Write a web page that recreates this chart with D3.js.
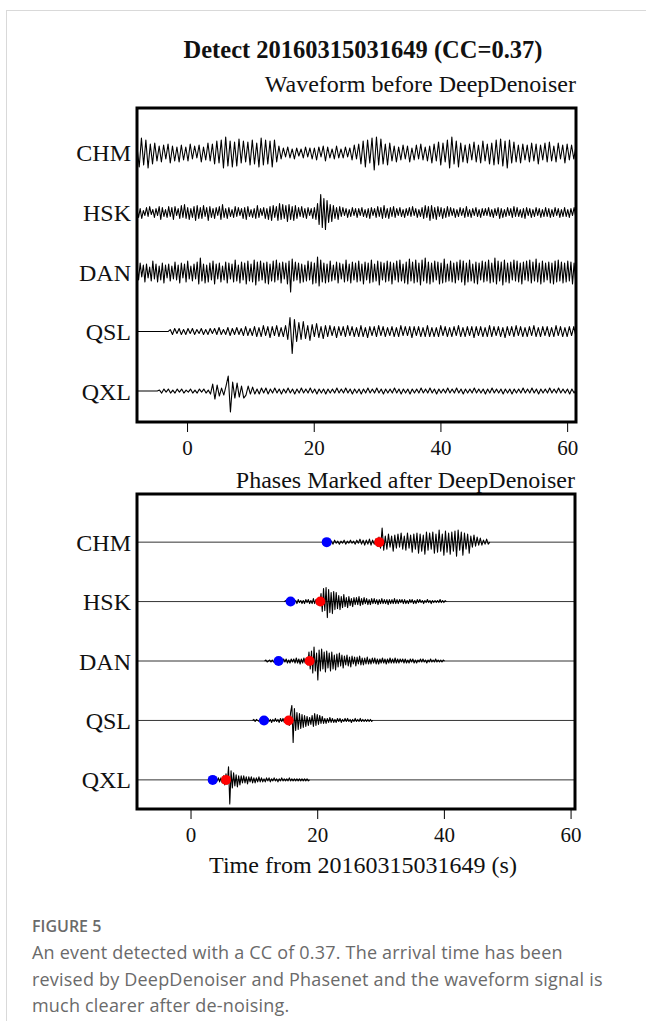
<!DOCTYPE html>
<html lang="en">
<head>
<meta charset="UTF-8">
<title>Detect 20160315031649</title>
<script src="https://d3js.org/d3.v7.min.js"></script>
<style>
  body { margin: 0; background: #fff; }
  svg { display: block; }
  .serif { font-family: "Liberation Serif", "Times New Roman", serif; fill: #111; }
  .caption { font-family: "Open Sans", "Noto Sans", sans-serif; fill: #6a6a6a; }
</style>
</head>
<body>
<svg id="fig" width="646" height="1021"></svg>
<script>
// station names, top to bottom
const stations = ["CHM", "HSK", "DAN", "QSL", "QXL"];
const xTicks = [0, 20, 40, 60];

// raw traces (before denoising): start time (s), sample step (s), amplitudes
const rawStart = [-7.9, -7.9, -7.9, -3.0, -4.7];
const rawStep = [0.35, 0.25, 0.25, 0.35, 0.35];

const rawCHM = [
  6,-14,15,-12,13,-15,9,-11,10,-8,7,-9,8,-6,9,-10,7,-8,6,-9,
  8,-7,6,-8,9,-6,7,-5,8,-9,6,-7,10,-8,9,-11,12,-10,13,-15,
  16,-13,12,-14,11,-13,14,-10,12,-9,11,-12,13,-11,10,-14,15,-12,13,-11,
  12,-14,13,-9,7,-6,5,-4,6,-5,4,-6,5,-3,4,-5,6,-4,5,-6,
  5,-7,6,-4,7,-8,6,-5,4,-6,7,-5,4,-5,6,-4,5,-7,8,-6,
  9,-11,12,-14,13,-10,15,-17,16,-12,14,-11,9,-12,10,-8,7,-9,6,-7,
  8,-6,7,-9,5,-7,8,-6,9,-7,6,-8,7,-10,9,-8,11,-12,10,-9,
  13,-15,16,-11,12,-14,10,-9,8,-10,9,-7,11,-9,8,-10,12,-8,9,-11,
  10,-12,13,-11,14,-13,12,-15,13,-10,11,-9,8,-10,9,-7,8,-9,10,-8,
  9,-11,8,-7,10,-9,11,-8,7,-9,10,-6,8,-10,9,-7,8,-6,7,-5
];
const rawHSK = [
  3,-5,4,-6,2,-3,5,-4,6,-2,3,-5,4,-3,6,-7,5,-4,3,-5,
  6,-4,5,-7,6,-3,4,-6,7,-5,8,-6,5,-7,4,-5,6,-8,7,-6,
  5,-6,7,-4,5,-8,6,-5,4,-6,5,-3,6,-7,8,-5,4,-6,5,-4,
  3,-5,6,-4,5,-3,4,-6,5,-7,6,-4,3,-5,4,-6,7,-5,4,-3,
  5,-6,4,-7,6,-8,7,-5,6,-8,9,-7,8,-6,7,-9,8,-7,6,-8,
  7,-6,5,-4,6,-5,4,-6,5,-3,4,-6,5,-7,9,-12,18,-15,14,-17,
  12,-10,8,-9,7,-6,5,-7,6,-4,5,-3,4,-5,3,-4,5,-3,4,-5,
  4,-3,5,-4,3,-5,4,-6,5,-3,4,-5,6,-4,5,-6,7,-5,4,-6,
  5,-4,6,-5,4,-3,5,-4,3,-5,4,-3,5,-4,6,-3,4,-5,3,-4,
  5,-6,7,-5,6,-8,7,-6,5,-7,6,-4,5,-6,4,-5,6,-4,5,-3,
  4,-5,3,-4,5,-3,4,-5,6,-4,3,-5,4,-3,5,-4,3,-5,4,-3,
  4,-3,5,-4,3,-5,4,-3,5,-6,4,-5,3,-4,5,-3,4,-5,6,-4,
  5,-4,3,-5,4,-6,5,-3,4,-5,3,-4,5,-3,4,-5,3,-4,5,-4,
  4,-5,3,-4,5,-3,4,-5,3,-4,5,-4,3,-5,4,-3,5,-4,3,-4
];
const rawDAN = [
  6,-8,9,-5,7,-10,8,-6,5,-9,11,-7,8,-10,6,-8,9,-11,7,-6,
  8,-9,6,-7,10,-8,7,-11,9,-6,8,-10,11,-7,6,-9,8,-7,10,-12,
  14,-9,8,-11,7,-10,9,-8,11,-12,8,-7,9,-10,6,-8,10,-11,9,-7,
  8,-10,12,-9,7,-11,10,-8,9,-12,11,-9,8,-10,12,-13,10,-9,11,-8,
  9,-11,10,-12,8,-9,11,-10,12,-8,9,-11,10,-7,9,-12,11,-20,13,-9,
  10,-8,9,-11,8,-10,7,-9,11,-8,10,-12,9,-11,15,-14,12,-10,9,-11,
  8,-10,11,-9,7,-8,10,-11,9,-7,8,-10,12,-9,8,-11,10,-8,9,-10,
  11,-9,8,-12,10,-8,9,-11,12,-10,8,-9,11,-13,10,-8,9,-10,11,-9,
  10,-12,9,-8,11,-10,12,-9,8,-11,10,-12,13,-9,10,-11,12,-10,9,-13,
  12,-9,14,-11,10,-12,9,-10,11,-8,10,-12,9,-11,13,-10,8,-9,11,-10,
  9,-11,10,-8,12,-10,11,-13,9,-10,12,-9,8,-11,10,-12,9,-8,11,-10,
  10,-9,12,-11,9,-10,14,-12,11,-9,10,-13,12,-10,9,-11,10,-8,12,-9,
  11,-10,9,-12,10,-8,11,-9,12,-11,10,-9,13,-10,9,-12,11,-10,9,-8,
  10,-11,9,-12,11,-10,12,-9,10,-11,9,-10,11,-9,10,-12,9,-10,11,-9
];
const rawQSL = [
  0,2,-3,3,-2,3,-3,2,-3,3,-2,3,-3,2,-2,3,-3,2,-3,3,
  -2,3,-3,4,-3,2,-3,4,-4,3,-3,4,-3,3,-4,5,-4,3,-4,5,
  -5,4,-5,6,-4,5,-6,5,-4,6,-5,4,-5,6,-8,14,-22,12,-10,9,
  -8,10,-7,6,-9,7,-5,8,-6,5,-7,6,-5,6,-4,5,-6,5,-4,5,
  -5,6,-4,5,-5,4,-5,6,-5,4,-6,5,-4,5,-5,6,-4,5,-5,4,
  -4,5,-5,4,-5,6,-4,5,-4,5,-6,5,-4,5,-5,4,-5,6,-5,4,
  -5,4,-5,6,-4,5,-5,4,-5,5,-4,6,-5,4,-5,5,-4,5,-6,5,
  -4,5,-5,4,-5,6,-5,5,-4,5,-5,4,-6,5,-4,5,-5,6,-4,5,
  -5,4,-5,5,-4,6,-5,4,-5,5,-4,5,-5,4,-5,6,-4,5,-5,4,
  -5,5,-4,5,-5,4,-5,5,-4,5,-5,4,-5,5,-4,5,-5,4,-5,5
];
const rawQXL = [
  0,1,-2,2,-1,2,-2,1,-2,2,-1,2,-2,1,-1,2,-2,1,-2,2,
  -1,2,-2,1,-3,7,-8,6,-5,3,-4,5,15,-21,9,-7,8,-6,5,-7,
  -4,5,-3,4,-3,2,-3,3,-2,3,-3,2,-2,3,-2,2,-3,2,-2,3,
  -2,2,-3,2,-2,3,-2,2,-2,3,-2,2,-3,2,-2,2,-3,2,-2,2,
  -2,3,-2,2,-2,3,-2,2,-3,2,-2,2,-3,2,-2,3,-2,2,-2,3,
  -2,2,-3,2,-2,2,-2,3,-2,2,-3,2,-2,2,-3,2,-2,2,-2,3,
  -2,2,-2,3,-2,2,-3,2,-2,2,-2,3,-2,2,-2,3,-2,2,-3,2,
  -2,2,-2,3,-2,2,-2,2,-3,2,-2,3,-2,2,-2,2,-3,2,-2,2,
  -3,2,-2,2,-2,3,-2,2,-2,3,-2,2,-3,2,-2,2,-2,3,-2,2,
  -2,3,-2,2,-2,2,-3,2,-2,2,-3,2,-2,3,-2,2,-2,2,-3,2
];

// denoised traces: start time (s), sample step (s), amplitudes
const denStart = [21.0, 14.8, 11.7, 9.8, 3.0];
const denStep = [0.25, 0.2, 0.2, 0.2, 0.2];

const denCHM = [
  0,1,-1,2,-1,1,-2,2,-1,1,-2,1,-1,2,-2,1,-1,2,-1,1,
  -2,2,-1,3,-2,2,-3,2,-2,3,-3,2,-2,3,-4,5,-6,14,-8,6,
  -7,8,-5,6,-9,7,-6,8,-5,9,-7,6,-8,9,-6,7,-10,8,-7,9,
  -11,8,-9,7,-12,10,-8,9,-7,10,-11,8,-10,12,-9,8,-13,11,-10,9,
  -12,10,-9,11,-14,12,-8,10,-13,9,-7,8,-11,6,-5,7,-4,5,-3,4,
  -3,2,-2,3,-2,0
];
const denHSK = [
  0,1,-1,1,-2,1,-1,2,-1,1,-2,2,-1,1,-2,1,-2,2,-1,2,
  -2,1,-2,3,-2,2,-3,3,-4,8,-10,13,-9,14,-16,12,-11,9,-12,10,
  -8,9,-7,6,-8,5,-6,7,-5,4,-6,5,-4,3,-5,4,-3,4,-3,5,
  -4,3,-3,4,-2,3,-3,2,-3,3,-2,3,-2,2,-3,2,-2,3,-2,2,
  -2,2,-3,2,-2,2,-2,3,-2,2,-2,2,-1,2,-2,2,-2,1,-2,2,
  -1,2,-2,1,-2,2,-1,2,-1,1,-2,1,-1,2,-1,1,-2,1,-1,1,
  -1,1,-1,2,-1,1,-1,1,0
];
const denDAN = [
  0,1,-1,0,1,-1,1,-1,0,1,-1,1,-2,1,-1,2,-1,2,-2,1,
  -2,2,-1,2,-2,3,-2,2,-3,2,-2,3,-2,3,-4,9,-8,10,-12,14,
  -10,8,-19,11,-10,12,-8,9,-11,10,-7,8,-10,9,-8,6,-9,7,-6,8,
  -5,6,-7,5,-4,6,-5,4,-6,5,-3,4,-5,4,-3,5,-4,3,-4,3,
  -3,4,-3,2,-3,3,-2,3,-3,2,-3,2,-2,3,-2,2,-3,2,-2,3,
  -2,2,-2,3,-2,2,-2,2,-1,2,-2,2,-2,1,-2,2,-1,2,-2,1,
  -2,1,-1,2,-1,2,-1,1,-2,1,-1,2,-1,1,-1,2,-1,1,-1,1,
  -1,1,0
];
const denQSL = [
  0,1,-1,1,0,-1,1,-1,1,-1,1,-1,2,-1,1,-2,1,-1,2,-1,
  1,-2,2,-1,2,-2,2,-3,3,-5,8,15,-22,12,-10,8,-9,7,-8,6,
  -7,5,-6,4,-5,3,-4,5,-6,7,-5,6,-4,5,-3,4,-3,2,-3,2,
  -2,3,-2,2,-2,1,-2,2,-1,2,-2,1,-1,2,-1,2,-1,1,-2,1,
  -1,2,-1,1,-1,2,-1,1,-1,1,-1,1,-1,1,-1,0
];
const denQXL = [
  0,1,-1,1,-1,2,-1,2,-2,2,-3,4,-5,6,-4,13,-24,9,-8,7,
  -6,5,-7,4,-5,4,-3,4,-3,3,-4,3,-2,3,-3,2,-3,2,-2,3,
  -2,2,-2,1,-2,2,-1,2,-2,1,-1,2,-1,1,-2,1,-1,2,-1,1,
  -1,1,-1,2,-1,1,-1,1,-1,1,-1,1,-1,1,-1,1,-1,1,-1,0
];

// picked arrivals (s) after denoising
const pPicks = [21.5, 15.8, 13.9, 11.6, 3.5];
const sPicks = [29.8, 20.5, 18.8, 15.5, 5.6];

const rawTraces = [rawCHM, rawHSK, rawDAN, rawQSL, rawQXL];
const denTraces = [denCHM, denHSK, denDAN, denQSL, denQXL];

const svg = d3.select("#fig");

// page card edges
svg.append("line").attr("x1", 6).attr("x2", 646).attr("y1", 10.5).attr("y2", 10.5)
  .attr("stroke", "#d9d9d9");
svg.append("line").attr("x1", 6.5).attr("x2", 6.5).attr("y1", 10).attr("y2", 1021)
  .attr("stroke", "#d9d9d9");

svg.append("text").attr("class", "serif")
  .attr("x", 363).attr("y", 58)
  .attr("text-anchor", "middle")
  .style("font-size", "24.5px").style("font-weight", "bold")
  .text("Detect 20160315031649 (CC=0.37)");

const amp = d3.scaleLinear().domain([-30, 30]).range([30, -30]);

function drawPanel(opt) {
  const x = d3.scaleLinear().domain(opt.xDomain).range([opt.left, opt.right]);
  const row = d3.scaleLinear().domain(opt.rowDomain).range([opt.top, opt.bottom]);
  const g = svg.append("g");

  g.append("text").attr("class", "serif")
    .attr("x", opt.right).attr("y", opt.titleY)
    .attr("text-anchor", "end")
    .style("font-size", "24px")
    .text(opt.title);

  const clipId = "clip" + opt.id;
  svg.append("clipPath").attr("id", clipId)
    .append("rect")
    .attr("x", opt.left).attr("y", opt.top)
    .attr("width", opt.right - opt.left).attr("height", opt.bottom - opt.top);

  const plot = g.append("g").attr("clip-path", `url(#${clipId})`);

  const line = d3.line().x(d => x(d[0])).y(d => d[1]);

  opt.traces.forEach((vals, i) => {
    const y0 = row(i);
    const pts = vals.map((v, k) => [opt.starts[i] + k * opt.steps[i], y0 + amp(v)]);
    if (opt.fullBaseline) {
      plot.append("line")
        .attr("x1", opt.left).attr("x2", opt.right)
        .attr("y1", y0).attr("y2", y0)
        .attr("stroke", "#333").attr("stroke-width", 1);
    } else if (opt.starts[i] > opt.xDomain[0]) {
      pts.unshift([opt.xDomain[0], y0]);
    }
    plot.append("path")
      .attr("d", line(pts))
      .attr("fill", "none")
      .attr("stroke", "#000")
      .attr("stroke-width", 1.1)
      .attr("stroke-linejoin", "round");
  });

  if (opt.picks) {
    [[opt.picks.p, "#0000ff"], [opt.picks.s, "#ff0000"]].forEach(([times, color]) => {
      plot.selectAll(null).data(times).enter().append("circle")
        .attr("cx", d => x(d))
        .attr("cy", (d, i) => row(i))
        .attr("r", 5)
        .attr("fill", color);
    });
  }

  g.selectAll(".station").data(stations).enter().append("text")
    .attr("class", "serif")
    .attr("x", opt.left - 6)
    .attr("y", (d, i) => row(i) + 8.5)
    .attr("text-anchor", "end")
    .style("font-size", "24px")
    .text(d => d);

  g.append("rect")
    .attr("x", opt.left).attr("y", opt.top)
    .attr("width", opt.right - opt.left).attr("height", opt.bottom - opt.top)
    .attr("fill", "none").attr("stroke", "#000").attr("stroke-width", 3);

  const axis = g.append("g")
    .attr("transform", `translate(0,${opt.bottom})`)
    .call(d3.axisBottom(x).tickValues(xTicks).tickSize(10).tickSizeOuter(0).tickPadding(8));
  axis.select(".domain").remove();
  axis.selectAll(".tick line").attr("stroke", "#000");
  axis.selectAll(".tick text")
    .attr("fill", "#111")
    .style("font-family", "'Liberation Serif', 'Times New Roman', serif")
    .style("font-size", "21px");
  return x;
}

drawPanel({
  id: "raw", title: "Waveform before DeepDenoiser", titleY: 92,
  left: 137, right: 576, top: 108, bottom: 422,
  xDomain: [-7.9, 61.4], rowDomain: [-0.756, 4.52],
  traces: rawTraces, starts: rawStart, steps: rawStep
});

drawPanel({
  id: "den", title: "Phases Marked after DeepDenoiser", titleY: 488,
  left: 137, right: 575, top: 494, bottom: 809,
  xDomain: [-8.45, 60.7], rowDomain: [-0.81, 4.49],
  traces: denTraces, starts: denStart, steps: denStep,
  fullBaseline: true, picks: { p: pPicks, s: sPicks }
});

svg.append("text").attr("class", "serif")
  .attr("x", 363).attr("y", 873)
  .attr("text-anchor", "middle")
  .style("font-size", "24px")
  .text("Time from 20160315031649 (s)");

// caption
svg.append("text").attr("class", "caption")
  .attr("x", 32).attr("y", 932)
  .style("font-size", "16px").style("font-weight", "600")
  .text("FIGURE 5");
const captionLines = [
  "An event detected with a CC of 0.37. The arrival time has been",
  "revised by DeepDenoiser and Phasenet and the waveform signal is",
  "much clearer after de-noising."
];
svg.append("g").selectAll("text").data(captionLines).enter().append("text")
  .attr("class", "caption")
  .attr("x", 32)
  .attr("y", (d, i) => 959 + i * 26.5)
  .style("font-size", "18px")
  .style("letter-spacing", "0.2px")
  .text(d => d);
</script>
</body>
</html>
